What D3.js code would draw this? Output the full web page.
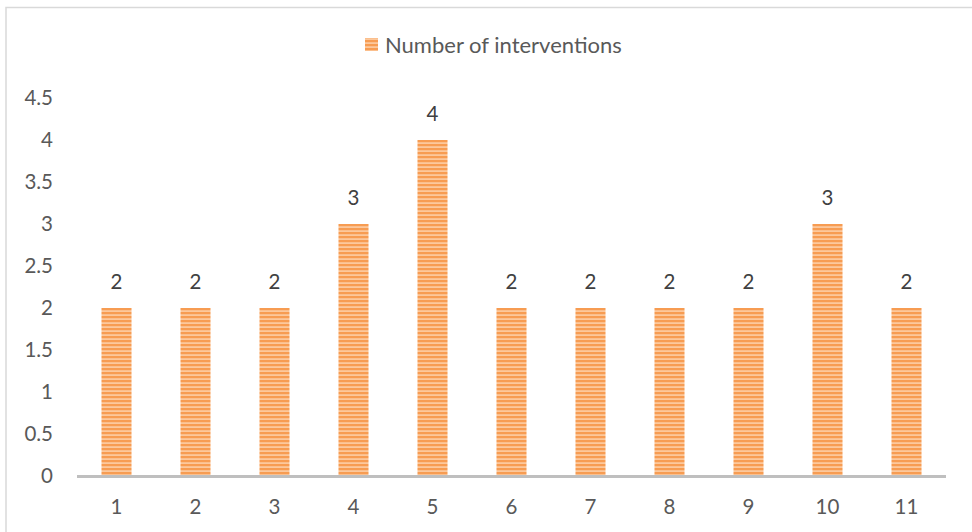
<!DOCTYPE html>
<html><head><meta charset="utf-8">
<script src="https://cdn.jsdelivr.net/npm/d3@7"></script>
<style>body{margin:0;background:#fff;}svg{display:block;}</style>
</head><body>
<svg id="c" width="972" height="532"></svg>
<script>
const categories = ["1","2","3","4","5","6","7","8","9","10","11"];
const values = [2,2,2,3,4,2,2,2,2,3,2];
const yTicks = [0,0.5,1,1.5,2,2.5,3,3.5,4,4.5];
const seriesName = "Number of interventions";

const svg = d3.select("#c");
const font = "Lato, 'Open Sans', sans-serif";
const txt = "#595959";

// frame
svg.append("rect").attr("x",6).attr("y",7.5).attr("width",980).attr("height",540)
  .attr("fill","#fff").attr("stroke","#d9d9d9").attr("stroke-width",1.5);

// pattern
const defs = svg.append("defs");
const pat = defs.append("pattern").attr("id","stripes").attr("patternUnits","userSpaceOnUse")
  .attr("width",8).attr("height",4);
pat.append("rect").attr("width",8).attr("height",4).attr("fill","#fcc89c");
pat.append("rect").attr("width",8).attr("height",2.2).attr("fill","#f79c52");

const x = d3.scaleBand().domain(categories).range([77,946]).paddingInner(0.62).paddingOuter(0.31);
const y = d3.scaleLinear().domain([0,4.5]).range([476,98]);

// y labels
svg.append("g").selectAll("text").data(yTicks).join("text")
  .attr("x",53).attr("y",d=>y(d)).attr("dy","0.35em").attr("text-anchor","end")
  .attr("font-family",font).attr("font-size",20.5).attr("fill",txt)
  .text(d=>d3.format("")(d));

// bars
svg.append("g").selectAll("rect").data(values).join("rect")
  .attr("x",(d,i)=>x(categories[i])).attr("width",x.bandwidth())
  .attr("y",d=>y(d)).attr("height",d=>y(0)-y(d)).attr("fill","url(#stripes)");

// axis line
svg.append("line").attr("x1",77).attr("x2",946).attr("y1",y(0)+0.5).attr("y2",y(0)+0.5)
  .attr("stroke","#bfbfbf").attr("stroke-width",3);

// x labels
svg.append("g").selectAll("text").data(categories).join("text")
  .attr("x",d=>x(d)+x.bandwidth()/2).attr("y",507).attr("dy","0.35em").attr("text-anchor","middle")
  .attr("font-family",font).attr("font-size",20.5).attr("fill",txt).text(d=>d);

// data labels
svg.append("g").selectAll("text").data(values).join("text")
  .attr("x",(d,i)=>x(categories[i])+x.bandwidth()/2).attr("y",d=>y(d)-26).attr("dy","0.35em")
  .attr("text-anchor","middle").attr("font-family",font).attr("font-size",20.5).attr("fill","#404040")
  .text(d=>d);

// legend
svg.append("rect").attr("x",365).attr("y",38).attr("width",13).attr("height",13).attr("fill","url(#stripes)");
svg.append("text").attr("x",385).attr("y",45).attr("dy","0.35em")
  .attr("font-family",font).attr("font-size",22).attr("fill",txt).text(seriesName);
</script>
</body></html>
